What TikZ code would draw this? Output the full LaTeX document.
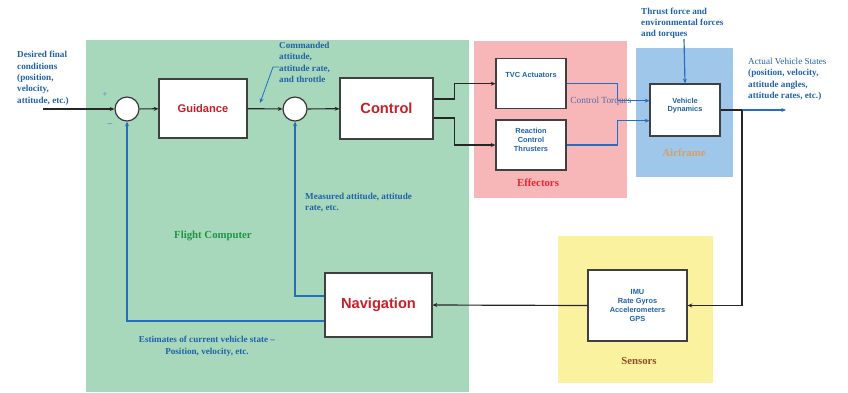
\documentclass[tikz,border=0pt]{standalone}
\usepackage{fontspec}
\setmainfont{Liberation Serif}
\setsansfont{Liberation Sans}
\usetikzlibrary{arrows.meta}
\definecolor{fcGreen}{RGB}{168,216,187}
\definecolor{efPink}{RGB}{247,182,184}
\definecolor{afBlue}{RGB}{159,199,234}
\definecolor{snYellow}{RGB}{251,242,160}
\definecolor{noteBlue}{RGB}{31,98,170}
\definecolor{lineBlue}{RGB}{35,110,195}
\definecolor{torqueBlue}{RGB}{80,110,170}
\definecolor{boxRed}{RGB}{200,30,40}
\definecolor{fcText}{RGB}{30,150,70}
\definecolor{efText}{RGB}{232,40,50}
\definecolor{afText}{RGB}{214,160,100}
\definecolor{snText}{RGB}{140,80,40}

\begin{document}
\begin{tikzpicture}[x=0.03cm, y=-0.03cm,
  blk/.style={draw=black!75, line width=1pt, fill=white, inner sep=0pt, font=\sffamily\bfseries},
  sumpt/.style={circle, draw=black!80, line width=1pt, fill=white, minimum size=0.72cm, inner sep=0pt},
  fwd/.style={draw=black!85, line width=1pt, -{Stealth[length=4pt,width=3.4pt]}},
  fb/.style={draw=lineBlue, line width=1pt, -{Stealth[length=4pt,width=3.4pt]}},
  note/.style={font=\bfseries\fontsize{7.8}{9.7}\selectfont, text=noteBlue, align=left, inner sep=0pt},
  grp/.style={font=\bfseries\fontsize{9.2}{11}\selectfont},
  smalltxt/.style={font=\sffamily\bfseries\fontsize{6.3}{7.5}\selectfont, text=noteBlue, align=center},
  bigtxt/.style={text=boxRed, font=\sffamily\bfseries\fontsize{12.5}{14}\selectfont}]
\useasboundingbox (0,0) rectangle (848,392);
% subsystem regions
\fill[fcGreen] (86,40) rectangle (469,392);
\fill[efPink] (474,41) rectangle (627,198);
\fill[afBlue] (636,48) rectangle (733,177);
\fill[snYellow] (558,236) rectangle (713,383);
% blocks
\node[sumpt] (sum1) at (127,109) {};
\node[sumpt] (sum2) at (295,109) {};
\node[blk, bigtxt, minimum width=2.64cm, minimum height=1.77cm, font=\sffamily\bfseries\fontsize{9.5}{11}\selectfont] (guid) at (203,108.5) {Guidance};
\node[blk, bigtxt, minimum width=2.79cm, minimum height=1.83cm] (ctrl) at (386.5,108.5) {Control};
\node[blk, minimum width=2.1cm, minimum height=1.5cm, label={[smalltxt, yshift=0.26cm]center:TVC Actuators}] (tvc) at (531,83.7) {};
\node[blk, minimum width=2.1cm, minimum height=1.5cm, label={[smalltxt, yshift=0.15cm]center:Reaction\\Control\\Thrusters}] (rct) at (531,145) {};
\node[blk, minimum width=2.1cm, minimum height=1.56cm, label={[smalltxt, yshift=0.13cm]center:Vehicle\\Dynamics}] (vd) at (685,110) {};
\node[blk, smalltxt, minimum width=2.97cm, minimum height=2.13cm] (sens) at (637.5,305.5) {IMU\\Rate Gyros\\Accelerometers\\GPS};
\node[blk, bigtxt, minimum width=3.21cm, minimum height=1.92cm] (nav) at (378.5,305) {Navigation};
% free ends
\coordinate (in) at (43,109);
\coordinate (thr) at (684,39);
\coordinate (br) at (742,110);
\coordinate (out) at (786,110);
\coordinate (cmdtip) at (260,103);
% forward path
\draw[fwd] (in) -- (sum1);
\draw[fwd] (sum1) -- (guid);
\draw[fwd] (guid) -- (sum2);
\draw[fwd] (sum2) -- (ctrl);
\draw[fwd] ([shift={(0,-9.5)}]ctrl.east) -- ++(21,0) |- (tvc.west);
\draw[fwd] ([shift={(0,9.5)}]ctrl.east) -- ++(21,0) |- (rct.west);
\draw[fb] (tvc.east) -- ++(51,0) |- ([shift={(0,-9.3)}]vd.west);
\draw[fb] (rct.east) -- ++(51,0) |- ([shift={(0,10.7)}]vd.west);
\draw[fb] (thr) -- (vd.north);
\draw[draw=black!85, line width=1pt] (vd.east) -- (br);
\draw[fb] (br) -- (out);
% feedback path
\draw[fwd] (br) |- (sens.east);
\draw[fwd] (sens.west) -- (nav.east);
\draw[fb] ([shift={(0,-9)}]nav.west) -| (sum2.south);
\draw[fb] ([shift={(0,16)}]nav.west) -| (sum1.south);
% region titles
\node[grp, text=fcText] (fclbl) at (213,236) {Flight Computer};
\node[grp, text=efText] (eflbl) at (538,183) {Effectors};
\node[grp, text=afText] (aflbl) at (684,153) {Airframe};
\node[grp, text=snText] (snlbl) at (639,361) {Sensors};
% signal notes
\node[note, anchor=north west] (desired) at (17,51) {Desired final\\conditions\\(position,\\velocity,\\attitude, etc.)};
\node[note, anchor=north west] (cmd) at (279,42) {Commanded\\attitude,\\attitude rate,\\and throttle};
\draw[fb, line width=0.7pt] ([shift={(0,25)}]cmd.north west) -- ++(-6,0) -- (cmdtip);
\node[note, anchor=north west] (thrust) at (641,7.5) {Thrust force and\\environmental forces\\and torques};
\node[note, anchor=north west] (states) at (748,58) {{\mdseries Actual Vehicle States}\\(position, velocity,\\attitude angles,\\attitude rates, etc.)};
\node[note, anchor=north west] (meas) at (305,192.5) {Measured attitude, attitude\\rate, etc.};
\node[note, anchor=north, align=center] (est) at (207,336) {Estimates of current vehicle state --\\Position, velocity, etc.};
\node[font=\fontsize{8}{9.6}\selectfont, text=torqueBlue, anchor=base] (torq) at (601,103.5) {Control Torques};
\node[font=\fontsize{8}{8}\selectfont, text=lineBlue!80] (plus) at (105,95) {+};
\node[font=\fontsize{8}{8}\selectfont, text=lineBlue] (minus) at (110,125) {--};
\end{tikzpicture}
\end{document}
